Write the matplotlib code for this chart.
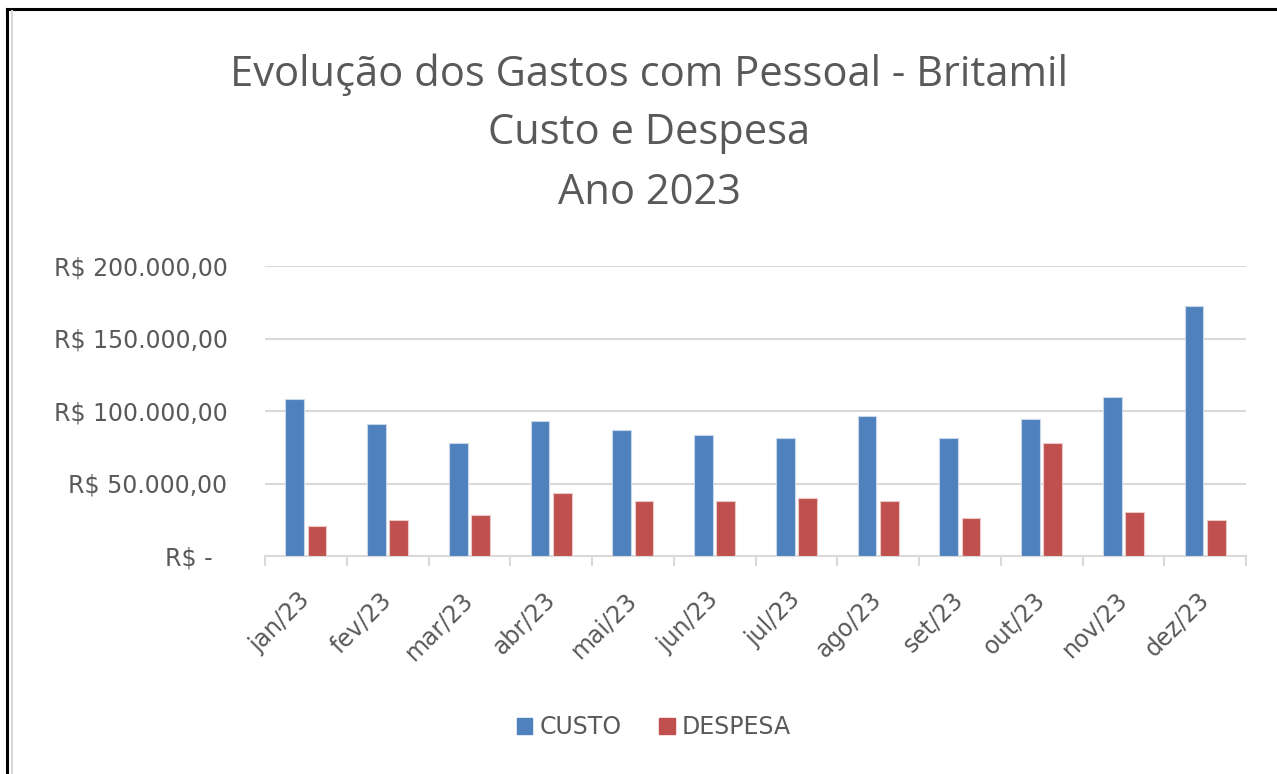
# -----------------------------------------
# Gastos com Pessoal - Britamil 2023
# -----------------------------------------

import matplotlib
matplotlib.use("Agg")
import matplotlib.pyplot as plt
import matplotlib.transforms as mtransforms
from matplotlib.patches import Patch
from matplotlib.ticker import FuncFormatter, FixedLocator
import numpy as np

# -----------------------------------------
# Data
# -----------------------------------------
meses = ["jan/23", "fev/23", "mar/23", "abr/23", "mai/23", "jun/23",
         "jul/23", "ago/23", "set/23", "out/23", "nov/23", "dez/23"]
custo = [108000, 91300, 77900, 93200, 87200, 83600,
         81700, 96600, 81700, 94700, 109800, 172600]
despesa = [20800, 24700, 28500, 43600, 37900, 37900,
           39900, 37900, 26500, 77600, 30300, 24700]

COR_CUSTO = "#4F81BD"
COR_DESPESA = "#C0504D"
COR_TEXTO = "#595959"

plt.rcParams["font.family"] = "DejaVu Sans"


def formata_real(v, pos):
    # formato contabil brasileiro
    if v == 0:
        return "R$ -  "
    s = f"{v:,.2f}".replace(",", "X").replace(".", ",").replace("X", ".")
    return f"R$ {s}"


# -----------------------------------------
# Figure
# -----------------------------------------
fig = plt.figure(figsize=(12.77, 7.74), dpi=100)
W, H = 1277, 774

# moldura (so topo e esquerda aparecem no recorte)
fig.add_artist(plt.Line2D([7 / W, 7 / W], [0, 1 - 9 / H], color="black", lw=2.2))
fig.add_artist(plt.Line2D([7 / W, 1], [1 - 9 / H, 1 - 9 / H], color="black", lw=2.2))
fig.add_artist(plt.Line2D([12 / W, 12 / W], [0, 1 - 11 / H], color="#D9D9D9", lw=1.5))

ax = fig.add_axes([265 / W, 1 - 556 / H, (1246 - 265) / W, (556 - 266) / H])

x = np.arange(len(meses))
ax.bar(x - 0.135, custo, width=0.23, color=COR_CUSTO, edgecolor="#C9D7EB",
       linewidth=0.8, label="CUSTO", zorder=3)
ax.bar(x + 0.135, despesa, width=0.23, color=COR_DESPESA, edgecolor="#EBC9C8",
       linewidth=0.8, label="DESPESA", zorder=3)

ax.set_xlim(-0.5, len(meses) - 0.5)
ax.set_ylim(0, 200000)
ax.set_yticks([0, 50000, 100000, 150000, 200000])
ax.yaxis.set_major_formatter(FuncFormatter(formata_real))
ax.yaxis.grid(True, color="#D9D9D9", linewidth=1.5, zorder=0)
ax.tick_params(axis="y", length=0, pad=27, labelsize=17, labelcolor=COR_TEXTO)

ax.set_xticks(x)
ax.set_xticklabels(meses, rotation=45, ha="right", va="center",
                   rotation_mode="anchor")
ax.xaxis.set_minor_locator(FixedLocator(np.arange(-0.5, len(meses), 1.0)))
ax.tick_params(axis="x", which="major", length=0, pad=0, labelsize=17,
               labelcolor=COR_TEXTO)
ax.tick_params(axis="x", which="minor", length=7, width=1.5, color="#D9D9D9")

desloc = mtransforms.ScaledTranslation(0 / 100, -40 / 100, fig.dpi_scale_trans)
for lbl in ax.get_xticklabels():
    lbl.set_transform(lbl.get_transform() + desloc)

for lado in ["left", "right", "top"]:
    ax.spines[lado].set_visible(False)
ax.spines["bottom"].set_color("#D9D9D9")
ax.spines["bottom"].set_linewidth(1.5)
ax.set_facecolor("white")

# -----------------------------------------
# Titulo
# -----------------------------------------
titulo = ["Evolução dos Gastos com Pessoal - Britamil", "Custo e Despesa", "Ano 2023"]
for linha, y_px in zip(titulo, [75, 133, 193]):
    fig.text(649 / W, 1 - y_px / H, linha, ha="center", va="center",
             fontsize=30, color=COR_TEXTO, family="Open Sans")

# -----------------------------------------
# Legenda
# -----------------------------------------
handles = [Patch(color=COR_CUSTO), Patch(color=COR_DESPESA)]
fig.legend(handles, ["CUSTO", "DESPESA"], loc="center",
           bbox_to_anchor=(654 / W, 1 - 727 / H), ncol=2, frameon=False,
           fontsize=17, labelcolor=COR_TEXTO, handlelength=0.65,
           handleheight=0.65, handletextpad=0.3, columnspacing=1.6)

fig.savefig("out.png", dpi=100, facecolor="white")
